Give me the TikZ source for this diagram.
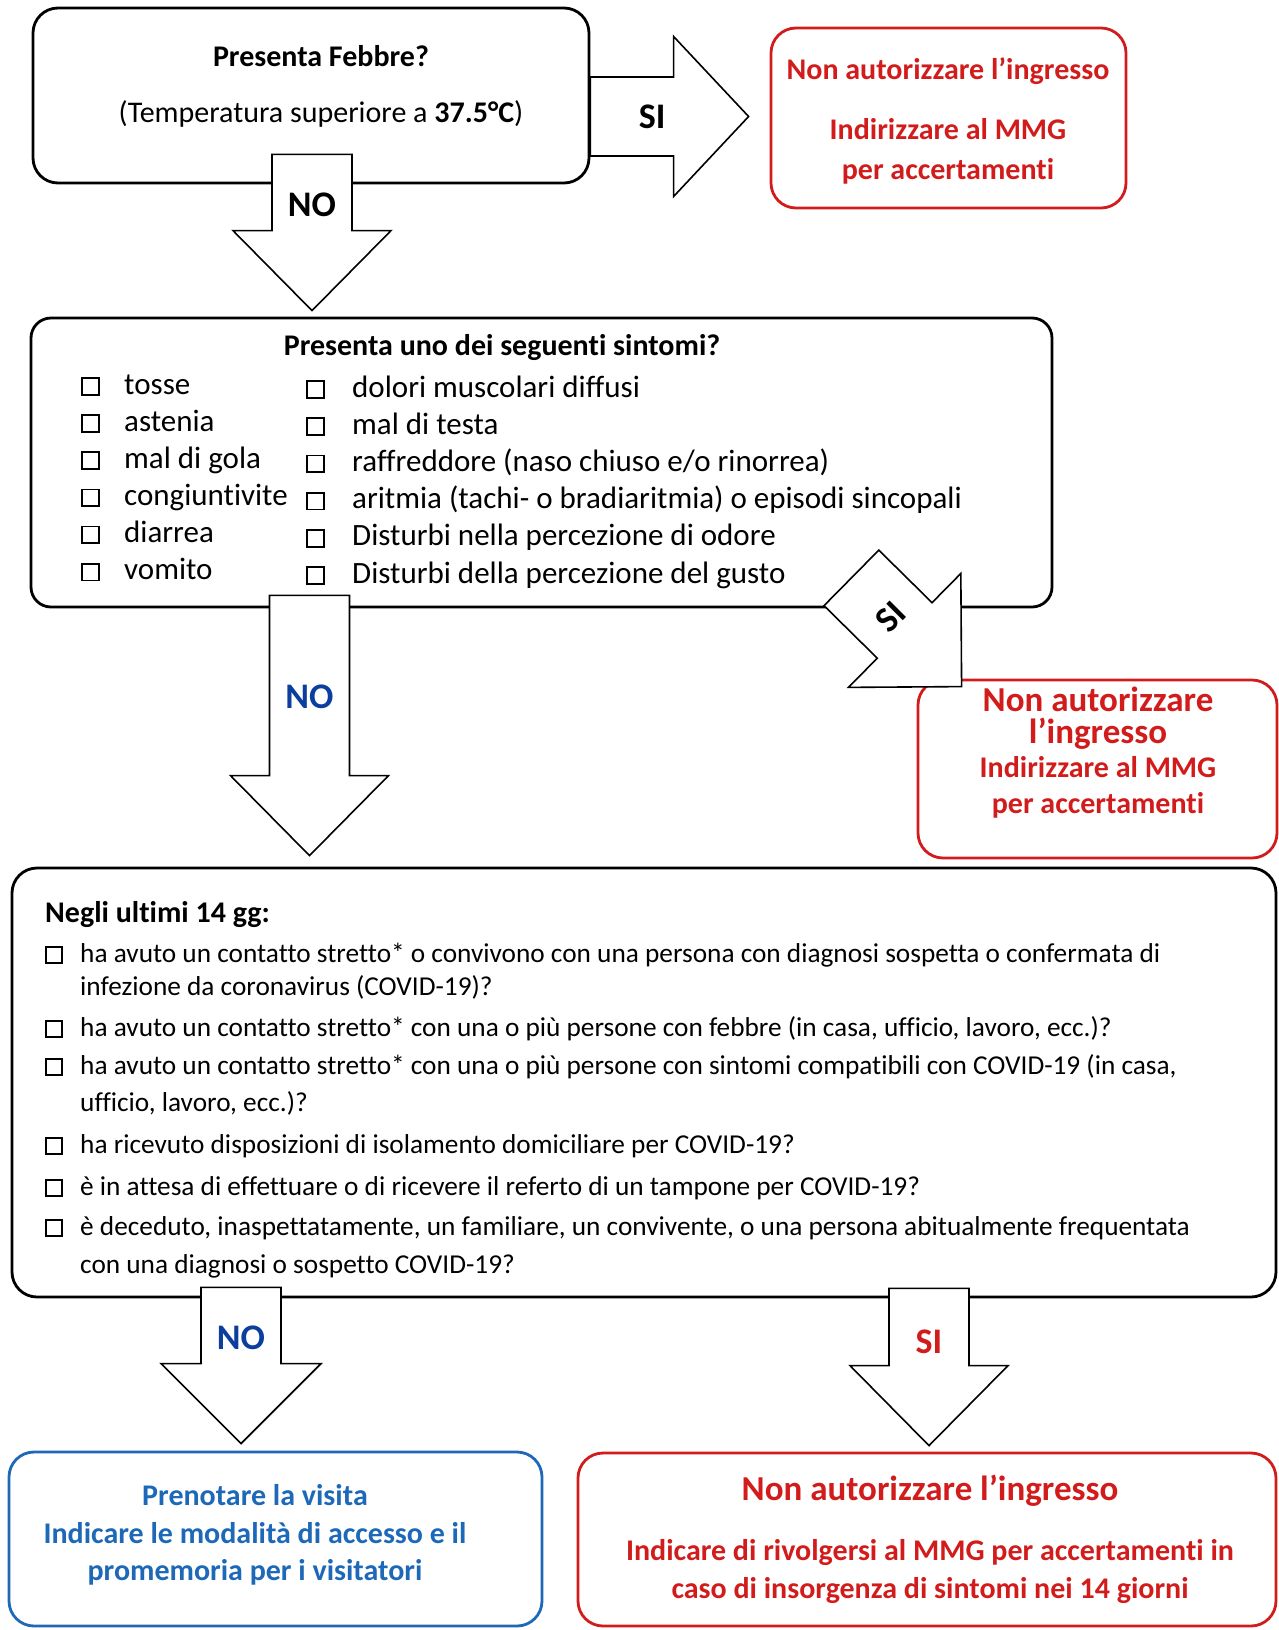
\documentclass[tikz,border=0pt]{standalone}
\usepackage{fontspec}
\setmainfont{Carlito}[Ligatures={NoCommon}]
\usetikzlibrary{calc,positioning}

\definecolor{stopred}{RGB}{210,28,28}
\definecolor{goblue}{RGB}{30,104,184}
\definecolor{noblue}{RGB}{12,62,158}

% empty tick box in front of the items
\newcommand{\chk}[1][15pt]{{\setlength{\fboxsep}{0pt}\setlength{\fboxrule}{1.8pt}\fbox{\rule{0pt}{#1}\rule{#1}{0pt}}}}

% block arrow: tail, tip, shaft half width, head half width, head length
\newcommand{\fatarrow}[5]
	{
	\coordinate (fa-b) at ($(#2)!#5!(#1)$);%centre of head base
	\filldraw[fat] ($(#1)!#3!90:(#2)$) -- ($(fa-b)!#3!90:(#2)$) -- ($(fa-b)!#4!90:(#2)$)
		-- (#2) -- ($(fa-b)!#4!-90:(#2)$) -- ($(fa-b)!#3!-90:(#2)$) -- ($(#1)!#3!-90:(#2)$) -- cycle;
	}

\tikzset{
	box/.style={draw, line width=2.8pt, rounded corners=25pt, inner sep=0pt},
	redbox/.style={box, draw=stopred},
	bluebox/.style={box, draw=goblue},
	fat/.style={draw=black, fill=white, line width=1.6pt, line join=miter},
	plain/.style={inner sep=0pt, anchor=base, font=\fontsize{30}{36}\selectfont},
	listed/.style={inner sep=0pt, anchor=base west, font=\fontsize{31}{36}\selectfont},
	small/.style={inner sep=0pt, anchor=base west, font=\fontsize{27.3}{32}\selectfont},
	heavy/.style={inner sep=0pt, anchor=base, font=\bfseries\fontsize{30}{36}\selectfont},
	big/.style={inner sep=0pt, anchor=base, font=\bfseries\fontsize{35}{40}\selectfont},
	lab/.style={inner sep=0pt, font=\bfseries\fontsize{36}{40}\selectfont},
}

\begin{document}
\begin{tikzpicture}[x=1pt,y=-1pt]
    \useasboundingbox (0,0) rectangle (1279,1630);

    % boxes
    \node[box, minimum width=556pt, minimum height=175pt] (fever) at (311,95.5) {};
    \node[redbox, minimum width=355pt, minimum height=180pt] (stopA) at (948.5,118) {};
    \node[box, rounded corners=20pt, minimum width=1021pt, minimum height=289pt] (sympt) at (541.5,462.5) {};
    \node[redbox, minimum width=359pt, minimum height=178pt] (stopB) at (1097.5,769) {};
    \node[box, minimum width=1264pt, minimum height=429pt] (contact) at (644,1082.5) {};
    \node[bluebox, minimum width=533pt, minimum height=174pt] (visit) at (275.5,1539) {};
    \node[redbox, minimum width=698pt, minimum height=173pt] (stopC) at (927,1539.5) {};

    % fever
    \node[heavy] (q1) at (321,66) {Presenta Febbre?};
    \node[plain] (q1t) at (321,122) {(Temperatura superiore a \textbf{37.5°C})};
    \node[heavy, text=stopred] (a1) at (948,79) {Non autorizzare l’ingresso};
    \node[heavy, text=stopred] (a1b) at (948,139) {Indirizzare al MMG};
    \node[heavy, text=stopred] (a1c) at (948,179) {per accertamenti};

    % symptoms
    \node[heavy] (q2) at (502,355) {Presenta uno dei seguenti sintomi?};
    \foreach \s [count=\i] in {tosse,astenia,mal di gola,congiuntivite,diarrea,vomito}
        \node[listed] (sa\i) at (81,{394+37.1*(\i-1)}) {\chk[15pt]\hspace{24.4pt}\s};
    \foreach \s [count=\i] in {dolori muscolari diffusi,mal di testa,raffreddore (naso chiuso e/o rinorrea),
            aritmia (tachi- o bradiaritmia) o episodi sincopali,Disturbi nella percezione di odore,
            Disturbi della percezione del gusto}
        \node[listed] (sb\i) at (306,{397+37.2*(\i-1)}) {\chk[15pt]\hspace{27.4pt}\s};
    \node[big, text=stopred] (a2) at (1098,711) {Non autorizzare};
    \node[big, text=stopred] (a2b) at (1098,743) {l’ingresso};
    \node[heavy, text=stopred] (a2c) at (1098,777) {Indirizzare al MMG};
    \node[heavy, text=stopred] (a2d) at (1098,813) {per accertamenti};

    % contacts
    \node[heavy, anchor=base west] (q3) at (45,922) {Negli ultimi 14 gg:};
    \foreach \y/\t [count=\i] in {
            962/{ha avuto un contatto stretto* o convivono con una persona con diagnosi sospetta o confermata di},
            1036/{ha avuto un contatto stretto* con una o più persone con febbre (in casa, ufficio, lavoro, ecc.)?},
            1074/{ha avuto un contatto stretto* con una o più persone con sintomi compatibili con COVID-19 (in casa,},
            1153/{ha ricevuto disposizioni di isolamento domiciliare per COVID-19?},
            1195/{è in attesa di effettuare o di ricevere il referto di un tampone per COVID-19?},
            1235/{è deceduto, inaspettatamente, un familiare, un convivente, o una persona abitualmente frequentata}}
        \node[small] (c\i) at (45,\y) {\chk[14pt]\hspace{17.4pt}\t};
    \foreach \y/\t [count=\i] in {995/{infezione da coronavirus (COVID-19)?},
            1111/{ufficio, lavoro, ecc.)?},1273/{con una diagnosi o sospetto COVID-19?}}
        \node[small] (cc\i) at (80,\y) {\t};

    % outcomes
    \node[heavy, text=goblue] (v1) at (255,1505) {Prenotare la visita};
    \node[heavy, text=goblue] (v2) at (255,1543) {Indicare le modalità di accesso e il};
    \node[heavy, text=goblue] (v3) at (255,1580) {promemoria per i visitatori};
    \node[big, text=stopred] (a3) at (930,1500) {Non autorizzare l’ingresso};
    \node[heavy, text=stopred] (a3b) at (930,1560) {Indicare di rivolgersi al MMG per accertamenti in};
    \node[heavy, text=stopred] (a3c) at (930,1598) {caso di insorgenza di sintomi nei 14 giorni};

    % arrows
    \coordinate (t1) at ($(fever.south)+(1,-30)$);
    \coordinate (h1) at ($(t1 |- sympt.north)+(0,-6)$);
    \fatarrow{t1}{h1}{40pt}{79pt}{80pt}
    \coordinate (t2) at ($(fever.east)+(0,21)$);
    \coordinate (h2) at ($(stopA.west)+(-21,-1.5)$);
    \fatarrow{t2}{h2}{39.5pt}{80pt}{75pt}
    \coordinate (t3) at ($(sympt.south)+(-232,-13)$);
    \coordinate (h3) at ($(t3 |- contact.north)+(0,-11)$);
    \fatarrow{t3}{h3}{40pt}{79pt}{80pt}
    \coordinate (t4) at ($(sympt.south east)+(-202,-30.5)$);
    \coordinate (h4) at ($(stopB.north west)+(45,8)$);
    \fatarrow{t4}{h4}{39pt}{80pt}{80pt}
    \coordinate (t5) at ($(contact.south)+(-403,-11)$);
    \coordinate (h5) at ($(t5 |- visit.north)+(0,-7)$);
    \fatarrow{t5}{h5}{40pt}{80pt}{80pt}
    \coordinate (t6) at ($(contact.south)+(285,-10)$);
    \coordinate (h6) at ($(t6 |- stopC.north)+(0,-6)$);
    \fatarrow{t6}{h6}{40pt}{79pt}{80pt}

    \node[lab] (no1) at ($(t1)!.32!(h1)$) {NO};
    \node[lab] (si1) at ($(t2)!.39!(h2)$) {SI};
    \node[lab, text=noblue] (no2) at ($(t3)!.39!(h3)$) {NO};
    \node[lab, rotate=45] (si2) at ($(t4)!.36!(h4)$) {SI};
    \node[lab, text=noblue] (no3) at ($(t5)!.32!(h5)$) {NO};
    \node[lab, text=stopred] (si3) at ($(t6)!.34!(h6)$) {SI};
\end{tikzpicture}
\end{document}
